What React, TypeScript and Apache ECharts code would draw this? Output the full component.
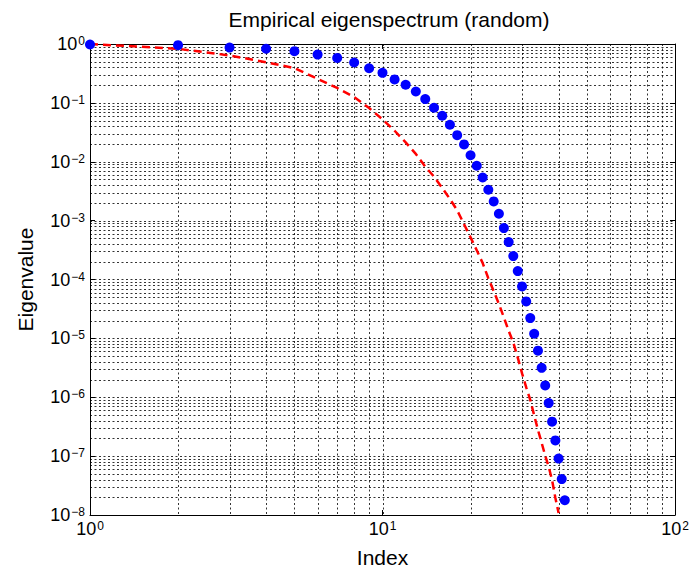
import React, { useEffect, useRef } from 'react';
import * as echarts from 'echarts';

// ---- Data ----
const sampleIndex = [
  1, 2, 3, 4, 5, 6, 7, 8, 9, 10, 11, 12, 13, 14, 15, 16, 17, 18, 19, 20, 21,
  22, 23, 24, 25, 26, 27, 28, 29, 30, 31, 32, 33, 34, 35, 36, 37, 38, 39, 40, 41, 42,
];
const empiricalEigenvalues = [
  0.98, 0.955, 0.87, 0.83, 0.755, 0.66, 0.58, 0.485, 0.388, 0.324, 0.25, 0.203,
  0.156, 0.116, 0.0826, 0.0604, 0.0425, 0.0283, 0.0197, 0.0129, 0.00855, 0.0054,
  0.00334, 0.00212, 0.00131, 7.46e-4, 4.32e-4, 2.5e-4, 1.39e-4, 7.64e-5, 4.25e-5,
  2.21e-5, 1.2e-5, 6.18e-6, 3.16e-6, 1.59e-6, 7.96e-7, 3.85e-7, 1.85e-7, 9.08e-8,
  4.08e-8, 1.78e-8,
];
const curveIndex = [
  1, 2, 3, 4, 5, 6, 7, 8, 9, 10, 11, 12, 13, 14, 15, 16, 17, 18, 19, 20, 21,
  22, 23, 24, 25, 26, 27, 28, 29, 30, 31, 32, 33, 34, 35, 36, 37, 38, 39, 40,
];
const curveValues = [
  1.0, 0.83, 0.64, 0.49, 0.39, 0.256, 0.179, 0.125, 0.0818, 0.0525, 0.0336,
  0.0213, 0.0136, 0.0083, 0.00558, 0.0036, 0.00233, 0.0015, 8.7e-4, 5.19e-4,
  3.13e-4, 1.9e-4, 1.05e-4, 6.35e-5, 3.84e-5, 2.27e-5, 1.34e-5, 8.47e-6, 4.72e-6,
  2.55e-6, 1.47e-6, 9.0e-7, 4.93e-7, 2.79e-7, 1.68e-7, 1.02e-7, 6.6e-8, 3.9e-8,
  1.95e-8, 1.08e-8,
];
const xRange = [1, 100];
const yRange = [1e-8, 1];
const titleText = 'Empirical eigenspectrum (random)';
const xName = 'Index';
const yName = 'Eigenvalue';

const FONT = '"Liberation Sans", Arial, Helvetica, sans-serif';

// log grid positions (1..9 times each decade, inside the ranges)
const gridX: number[] = [];
for (let k = 0; k < 2; k++) for (let m = 1; m <= 9; m++) {
  const v = m * Math.pow(10, k);
  if (v > xRange[0] && v < xRange[1]) gridX.push(v);
}
const gridY: number[] = [];
for (let k = -8; k < 0; k++) for (let m = 1; m <= 9; m++) {
  const v = m * Math.pow(10, k);
  if (v > yRange[0] && v < yRange[1]) gridY.push(v);
}

const expLabel = (v: number) => {
  const e = Math.round(Math.log10(v));
  const s = e < 0 ? '\u2212' + Math.abs(e) : String(e);
  return `{b|10}{s|${s}}`;
};
const rich = {
  b: { fontSize: 18, lineHeight: 18, padding: [8, 0, 0, 0], color: '#000', fontFamily: FONT, verticalAlign: 'bottom' },
  s: { fontSize: 12, lineHeight: 12, padding: [0, 0, 14, 1], color: '#000', fontFamily: FONT, verticalAlign: 'top' },
};

export default function App() {
  const ref = useRef<HTMLDivElement>(null);
  useEffect(() => {
    if (!ref.current) return;
    const chart = echarts.init(ref.current, undefined, { renderer: 'svg' });
    const axisLine = { show: true, lineStyle: { color: '#000', width: 1 } };
    const tick = { show: true, inside: true, length: 5, lineStyle: { color: '#000', width: 1 } };
    const gridData = [
      ...gridX.map((v) => [v, 1, 0]),
      ...gridY.map((v) => [1, v, 1]),
    ];
    chart.setOption({
      animation: false,
      backgroundColor: '#fff',
      title: {
        text: titleText,
        left: 389,
        top: 9,
        textAlign: 'center',
        padding: 0,
        textStyle: { fontSize: 21, fontWeight: 'normal', color: '#000', fontFamily: FONT },
      },
      grid: { left: 90, right: 14, top: 44, bottom: 56, containLabel: false, outerBoundsMode: 'none' },
      xAxis: [
        {
          type: 'log', logBase: 10, min: xRange[0], max: xRange[1], splitNumber: 2,
          position: 'bottom',
          axisLine, axisTick: tick,
          axisLabel: { formatter: expLabel, rich, margin: 5, showMaxLabel: true, showMinLabel: true, hideOverlap: false },
          splitLine: { show: false },
          name: xName, nameLocation: 'middle', nameGap: 34, nameMoveOverlap: false,
          nameTextStyle: { fontSize: 21, lineHeight: 16, color: '#000', fontFamily: FONT },
        },
        {
          type: 'log', logBase: 10, min: xRange[0], max: xRange[1], splitNumber: 2,
          position: 'top',
          axisLine, axisTick: tick,
          axisLabel: { show: false },
          splitLine: { show: false },
        },
      ],
      yAxis: [
        {
          type: 'log', logBase: 10, min: yRange[0], max: yRange[1], splitNumber: 8,
          position: 'left',
          axisLine, axisTick: tick,
          axisLabel: { formatter: expLabel, rich, margin: 5, showMaxLabel: true, showMinLabel: true },
          splitLine: { show: false },
          name: yName, nameLocation: 'middle', nameGap: 54,
          nameTextStyle: { fontSize: 21, color: '#000', fontFamily: FONT },
        },
        {
          type: 'log', logBase: 10, min: yRange[0], max: yRange[1], splitNumber: 8,
          position: 'right',
          axisLine, axisTick: tick,
          axisLabel: { show: false },
          splitLine: { show: false },
        },
      ],
      series: [
        {
          type: 'custom',
          silent: true,
          z: 1,
          encode: { x: 0, y: 1 },
          data: gridData,
          renderItem: (params: any, api: any) => {
            const o = api.value(2);
            let x1, y1, x2, y2;
            if (o === 0) {
              const v = api.value(0);
              const p1 = api.coord([v, yRange[1]]);
              const p2 = api.coord([v, yRange[0]]);
              x1 = x2 = Math.round(p1[0]) + 0.5;
              y1 = p1[1];
              y2 = p2[1];
            } else {
              const v = api.value(1);
              const p1 = api.coord([xRange[0], v]);
              const p2 = api.coord([xRange[1], v]);
              y1 = y2 = Math.round(p1[1]) + 0.5;
              x1 = p1[0];
              x2 = p2[0];
            }
            return {
              type: 'line',
              shape: { x1, y1, x2, y2 },
              style: { stroke: '#000', lineWidth: 1, lineDash: [2, 2.5], opacity: 0.8 },
            };
          },
        },
        {
          type: 'line',
          data: curveIndex.map((x, i) => [x, curveValues[i]]),
          showSymbol: false,
          symbol: 'none',
          lineStyle: { color: '#ff0000', width: 2.5, type: [8, 5] },
          z: 3,
          clip: true,
        },
        {
          type: 'scatter',
          data: sampleIndex.map((x, i) => [x, empiricalEigenvalues[i]]),
          symbol: 'circle',
          symbolSize: 10,
          itemStyle: { color: '#0000ff', opacity: 1 },
          z: 4,
          clip: false,
        },
      ],
    });
    return () => chart.dispose();
  }, []);
  return (
    <div
      ref={ref}
      style={{ position: 'fixed', left: 0, top: 0, width: 689, height: 571, background: '#fff' }}
    />
  );
}
